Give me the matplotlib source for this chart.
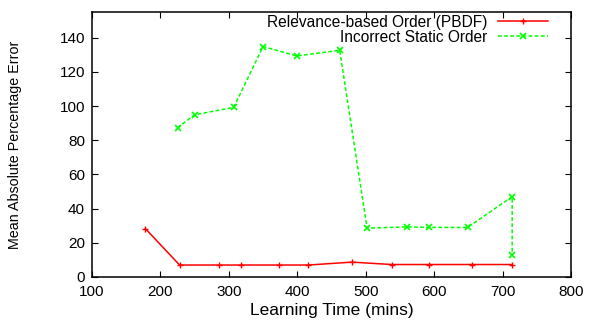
import matplotlib.pyplot as plt

plt.rcParams['font.family'] = ['Liberation Sans', 'DejaVu Sans']

# Relevance-based Order (PBDF)
pbdf_x = [178, 228, 286, 318, 373, 416, 480, 538, 592, 655, 714]
pbdf_y = [28.3, 7.0, 7.0, 7.0, 7.0, 7.0, 8.7, 7.3, 7.3, 7.3, 7.3]

# Incorrect Static Order
static_x = [225, 250, 307, 350, 399, 462, 502, 560, 592, 649, 714, 714]
static_y = [87.3, 94.9, 99.2, 134.8, 129.3, 132.6, 28.6, 29.3, 29.0, 29.0, 47.0, 12.7]

xticks = [100, 200, 300, 400, 500, 600, 700, 800]
yticks = [0, 20, 40, 60, 80, 100, 120, 140]

fig = plt.figure(figsize=(5.89, 3.22), dpi=100)
ax = fig.add_axes([92 / 589, 45 / 322, 479 / 589, 265 / 322])

ax.plot(pbdf_x, pbdf_y, color='#ff0000', lw=1.1, marker='+', ms=5, mew=1,
        label='Relevance-based Order (PBDF)')
ax.plot(static_x, static_y, color='#00ff00', lw=1.1, ls=(0, (2.5, 1.5)),
        marker='x', ms=4.5, mew=1.2, label='Incorrect Static Order')

ax.set_xlim(100, 800)
ax.set_ylim(0, 155)
ax.set_xticks(xticks)
ax.set_yticks(yticks)
ax.tick_params(direction='in', length=4, width=0.8, top=True, right=True,
               labelsize=11)
ax.tick_params(axis='x', pad=6)
ax.tick_params(axis='y', pad=5)
for s in ax.spines.values():
    s.set_linewidth(1.1)

ax.set_xlabel('Learning Time (mins)', fontsize=12.5, labelpad=3)
ax.set_ylabel('Mean Absolute Percentage Error', fontsize=10.3, labelpad=27)

leg = ax.legend(loc='upper right', bbox_to_anchor=(0.975, 1.03), frameon=False,
                markerfirst=False, fontsize=11.2, handlelength=3.2,
                handletextpad=0.7, labelspacing=0.0, borderpad=0.2)

fig.savefig('out.png', dpi=100)
